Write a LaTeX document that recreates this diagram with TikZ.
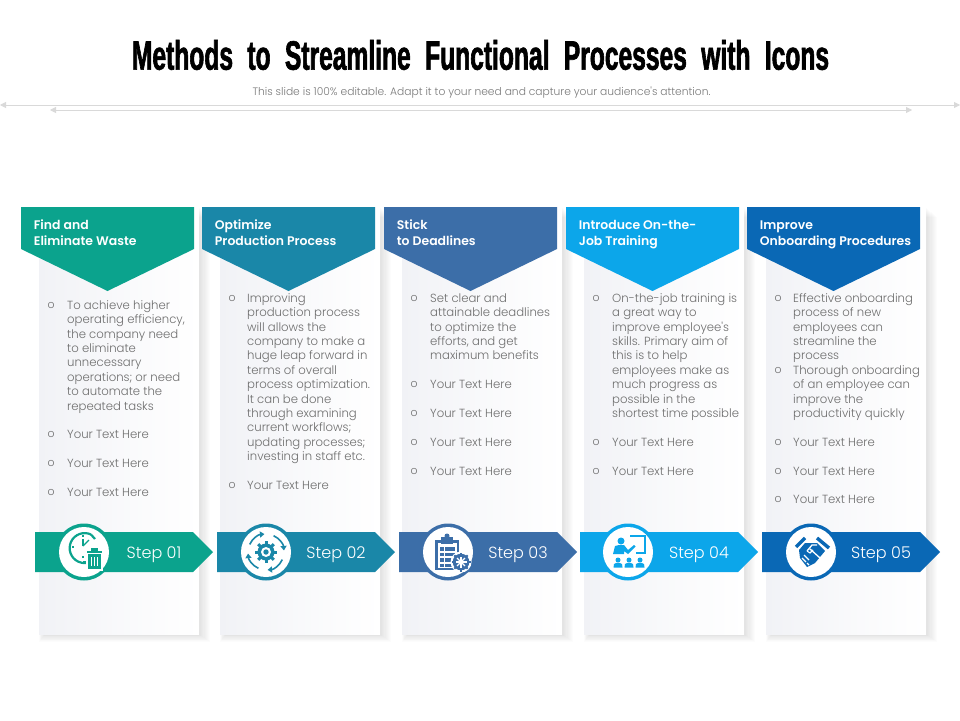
\documentclass[tikz,border=0pt]{standalone}
\usepackage{fontspec}
\usetikzlibrary{arrows.meta}
\setmainfont{Poppins}
\newfontfamily\titlef[FakeStretch=0.6,FakeBold=1.5,WordSpace=2.1]{Liberation Sans Bold}
\newfontfamily\bodyf[FakeStretch=0.99]{Poppins Light}
\newfontfamily\headf[FakeStretch=1.0]{Poppins SemiBold}
\definecolor{c1}{HTML}{0BA38D}
\definecolor{c2}{HTML}{1A87A8}
\definecolor{c3}{HTML}{3C6EA8}
\definecolor{c4}{HTML}{0CA6EA}
\definecolor{c5}{HTML}{0A68B5}
\definecolor{rulegray}{HTML}{D9D9D9}
\definecolor{bodygray}{HTML}{6E6E6E}
\definecolor{subgray}{HTML}{7A7A7A}
\definecolor{cardtop}{HTML}{F1F2F6}
\tikzset{
  x=1pt,y=-1pt,
  titletext/.style={inner sep=0pt,text=black,font=\titlef\fontsize{41}{44}\selectfont},
  subtext/.style={inner sep=0pt,text=subgray,font=\bodyf\fontsize{10.8}{12}\selectfont},
  bodytext/.style={inner sep=0pt,anchor=north west,align=left,text=bodygray,font=\bodyf\fontsize{11.8}{14.4}\selectfont},
  bullettext/.style={inner sep=0pt,text=bodygray,font=\bodyf\fontsize{11}{12}\selectfont},
  headtext/.style={inner sep=0pt,anchor=north west,align=left,text=white,font=\headf\fontsize{12.45}{16}\selectfont},
  steptext/.style={inner sep=0pt,text=white,font=\bodyf\fontsize{16.2}{18}\selectfont},
  rulearrow/.style={draw=rulegray,line width=0.8pt,{Triangle[length=6pt,width=6pt]}-{Triangle[length=6pt,width=6pt]}},
}
% #1 id, #2 card left, #3 header left, #4 step left, #5 circle x, #6 colour, #7 header text, #8 step text
\newcommand{\colblock}[8]{%
  \foreach \k in {1,...,10}{\fill[black,opacity=0.011] (#2+6-\k*.6,207+\k) rectangle (#2+160+\k*1.1,634+\k*.8);}
  \shade[shading angle=135,left color=cardtop,right color=white,middle color=cardtop!45!white] (#2,207) rectangle (#2+160,634);
  \fill[#6] (#3,207) -- (#3+173,207) -- (#3+173,249) -- (#3+86.5,291) -- (#3,249) -- cycle;
  \node[headtext] (head#1) at (#3+12.7,218.5) {\strut#7};
  \fill[#6] (#4,532) -- (#4+158,532) -- (#4+178,552) -- (#4+158,572) -- (#4,572) -- cycle;
  \fill[#6] (#5,552) circle[radius=28.5];
  \fill[white] (#5,552) circle[radius=25];
  \node[steptext] (step#1) at (#4+119,554.5) {#8};
}
\newcommand{\bul}[5]{% id, bullet x, text x, line centre y, text
  \node[bullettext] (bu#1) at (#2,#4+.5) {o};
  \node[bodytext] (tx#1) at (#3,#4-5.9) {\strut#5};
}
\begin{document}
\begin{tikzpicture}
\useasboundingbox (0,0) rectangle (960,720);
\fill[white] (0,0) rectangle (960,720);
\node[titletext] (title) at (480.5,55) {Methods to Streamline Functional Processes with Icons};
\node[subtext] (subtitle) at (481.5,92.5) {This slide is 100\% editable. Adapt it to your need and capture your audience's attention.};
\coordinate (ruleAl) at (0,105); \coordinate (ruleAr) at (960,105);
\coordinate (ruleBl) at (50,110); \coordinate (ruleBr) at (912,110);
\draw[rulearrow] (ruleAl) -- (ruleAr);
\draw[rulearrow] (ruleBl) -- (ruleBr);

\colblock{1}{39}{21}{35}{84}{c1}{Find and\\Eliminate Waste}{Step 01}
\colblock{2}{220}{202}{217}{266}{c2}{Optimize\\Production Process}{Step 02}
\colblock{3}{402}{384}{399}{448}{c3}{Stick\\to Deadlines}{Step 03}
\colblock{4}{584}{566}{580}{628}{c4}{Introduce On-the-\\Job Training}{Step 04}
\colblock{5}{766}{747}{762}{811}{c5}{Improve\\Onboarding Procedures}{Step 05}

\bul{a}{51}{67}{305}{To achieve higher\\operating efficiency,\\the company need\\to eliminate\\unnecessary\\operations; or need\\to automate the\\repeated tasks}
\bul{b}{51}{67}{434}{Your Text Here}
\bul{c}{51}{67}{463}{Your Text Here}
\bul{d}{51}{67}{492}{Your Text Here}

\bul{e}{232}{247}{298}{Improving\\production process\\will allows the\\company to make a\\huge leap forward in\\terms of overall\\process optimization.\\It can be done\\through examining\\current workflows;\\updating processes;\\investing in staff etc.}
\bul{f}{232}{247}{485}{Your Text Here}

\bul{g}{414}{430}{298}{Set clear and\\attainable deadlines\\to optimize the\\efforts, and get\\maximum benefits}
\bul{h}{414}{430}{384}{Your Text Here}
\bul{i}{414}{430}{413}{Your Text Here}
\bul{j}{414}{430}{442}{Your Text Here}
\bul{k}{414}{430}{471}{Your Text Here}

\bul{l}{596}{612}{298}{On-the-job training is\\a great way to\\improve employee's\\skills. Primary aim of\\this is to help\\employees make as\\much progress as\\possible in the\\shortest time possible}
\bul{m}{596}{612}{442}{Your Text Here}
\bul{n}{596}{612}{471}{Your Text Here}

\bul{o}{778}{793}{298}{Effective onboarding\\process of new\\employees can\\streamline the\\process}
\bul{p}{778}{793}{370}{Thorough onboarding\\of an employee can\\improve the\\productivity quickly}
\bul{q}{778}{793}{442}{Your Text Here}
\bul{r}{778}{793}{471}{Your Text Here}
\bul{s}{778}{793}{499}{Your Text Here}

% Icon 1: clock and bin
\begin{scope}[shift={(84,552)},c1]
  \draw[c1,line width=2.2pt] (7,-17.5) arc[start angle=-65,end angle=-275,radius=15] ;
  \draw[c1,line width=2.2pt] (-1,10) -- (2,10);
  \draw[c1,line width=2.2pt] (7,-17.5) -- (11,-13);
  \draw[c1,line width=1.3pt] (-1,-6) -- (-1,-13);
  \draw[c1,line width=1.3pt] (-1,-6) -- (5,-12);
  \draw[c1,line width=1.1pt] (-1,-17) -- (-1,-15) (-12,-5) -- (-10,-5) (-1,6) -- (-1,4);
  \fill[white] (2,-5.5) rectangle (19,19);
  \fill[c1] (4,2) rectangle (17,17);
  \fill[c1] (3,-1.5) rectangle (18,1);
  \fill[c1] (7,-4) rectangle (14,-1);
  \draw[white,line width=1pt] (7.5,5) -- (7.5,14) (10.5,5) -- (10.5,14) (13.5,5) -- (13.5,14);
\end{scope}

% Icon 2: gear and turning arrows
\begin{scope}[shift={(266,552)}]
  \foreach \a in {0,45,...,315}{\draw[c2,line width=3pt] (0,0) -- (\a:11);}
  \fill[c2] (0,0) circle[radius=8.5];
  \fill[white] (0,0) circle[radius=5];
  \fill[c2] (0,0) circle[radius=2.7];
  \foreach \a in {0,90,180,270}{
    \draw[c2,line width=1.6pt,-{Triangle[length=4.5pt,width=6pt]}] (\a+205:18) arc[start angle=\a+205,end angle=\a+265,radius=18];
  }
\end{scope}

% Icon 3: clipboard and gear
\begin{scope}[shift={(448,552)}]
  \fill[c3] (-13,-12) rectangle (11,18);
  \fill[white] (-10.5,-9) rectangle (8.5,15.5);
  \fill[c3] (-7,-15) rectangle (5,-8);
  \fill[c3] (-1,-16) circle[radius=2.5];
  \foreach \y in {-5,0.5,6,11.5}{
    \fill[c3] (-8.5,\y) rectangle (-4.5,\y+3.5);
    \fill[c3] (-3,\y) rectangle (7,\y+3.5);
  }
  \fill[white] (13,10) circle[radius=10.5];
  \foreach \a in {0,45,...,315}{\draw[c3,line width=2pt] (13,10) -- ++(\a:9.5);}
  \fill[c3] (13,10) circle[radius=8.3];
  \foreach \a in {0,45,...,315}{\draw[white,line width=1.1pt] (13,10) -- ++(\a:5.5);}
\end{scope}

% Icon 4: presenter with audience
\begin{scope}[shift={(628,552)}]
  \draw[c4,line width=1.3pt] (2,-16) -- (17,-16) -- (17,1) -- (8,1);
  \fill[c4] (-7,-11) circle[radius=3.5];
  \fill[c4] (-15,2) -- (-13,-6) -- (-9,-7) -- (-4,-7) -- (0,-2) -- (6,-7) -- (7.5,-5.5) -- (0,2) -- (-4,-1) -- (-4,2) -- cycle;
  \foreach \x in {-10,1,12}{
    \fill[c4] (\x,8) circle[radius=2.5];
    \fill[c4] (\x-4.5,15.5) -- (\x-4,12) -- (\x-1.5,10.8) -- (\x+1.5,10.8) -- (\x+4,12) -- (\x+4.5,15.5) -- cycle;
  }
\end{scope}

% Icon 5: handshake
\begin{scope}[shift={(811,552)}]
  \draw[c5,line width=3.4pt] (-15,-5) -- (-6,-14);
  \draw[c5,line width=3.4pt] (6,-14) -- (18,-4);
  \fill[c5] (-12,-2) -- (-6,-9) -- (6,-9) -- (14,-1) -- (4,11) -- (-4,15) -- (-11,6) -- cycle;
  \draw[white,line width=1.3pt] (-4,-1) -- (1,-7) -- (6,-7) (-1,-3) -- (9,6) (-9,6) -- (-5,10) (-7,3) -- (-2,8) (-4,11) -- (-2,13) ;
  \draw[white,line width=1.1pt] (-4,-1) -- (-1,1) -- (2,-2);
\end{scope}
\end{tikzpicture}
\end{document}
